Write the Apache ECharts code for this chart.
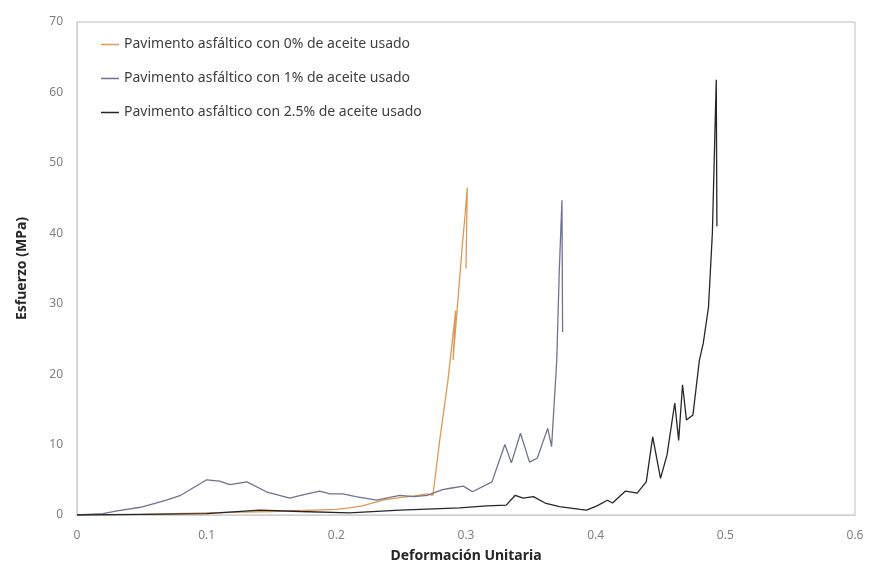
<!DOCTYPE html>
<html>
<head>
<meta charset="utf-8">
<script src="https://cdn.jsdelivr.net/npm/echarts@6/dist/echarts.min.js"></script>
<style>
  html, body { margin: 0; padding: 0; background: #fff; }
  #chart { width: 875px; height: 569px; }
</style>
</head>
<body>
<div id="chart"></div>
<script>
// values
const seriesNames = [
    'Pavimento asfáltico con 0% de aceite usado',
    'Pavimento asfáltico con 1% de aceite usado',
    'Pavimento asfáltico con 2.5% de aceite usado'
];

const strain0 = [0, 0.05, 0.1, 0.15, 0.2, 0.21, 0.22, 0.236, 0.25, 0.26, 0.27, 0.2745, 0.28, 0.286, 0.289, 0.292, 0.29, 0.294, 0.297, 0.299, 0.301, 0.3];
const stress0 = [0, 0.1, 0.3, 0.5, 0.8, 1.0, 1.3, 2.1, 2.5, 2.7, 3.0, 2.8, 11, 19, 24, 29, 22, 31, 38, 42, 46.5, 35];

const strain1 = [0, 0.02, 0.031, 0.049, 0.069, 0.08, 0.1, 0.11, 0.118, 0.131, 0.146, 0.164, 0.175, 0.187, 0.195, 0.205, 0.215, 0.231, 0.249, 0.26, 0.27, 0.282, 0.288, 0.298, 0.305, 0.32, 0.33, 0.335, 0.342, 0.349, 0.355, 0.363, 0.366, 0.37, 0.372, 0.374, 0.3745];
const stress1 = [0, 0.2, 0.6, 1.1, 2.1, 2.8, 5.0, 4.8, 4.3, 4.7, 3.3, 2.4, 2.9, 3.4, 3.0, 3.0, 2.6, 2.1, 2.8, 2.6, 2.8, 3.6, 3.8, 4.1, 3.3, 4.7, 10, 7.4, 11.6, 7.5, 8.1, 12.3, 9.7, 22, 35, 44.7, 26];

const strain2 = [0, 0.05, 0.1, 0.141, 0.172, 0.21, 0.249, 0.28, 0.295, 0.316, 0.331, 0.338, 0.344, 0.352, 0.361, 0.372, 0.388, 0.393, 0.401, 0.409, 0.413, 0.423, 0.432, 0.439, 0.444, 0.45, 0.455, 0.461, 0.464, 0.467, 0.47, 0.475, 0.48, 0.483, 0.487, 0.49, 0.493, 0.4935];
const stress2 = [0, 0.1, 0.2, 0.7, 0.5, 0.3, 0.7, 0.9, 1.0, 1.3, 1.4, 2.8, 2.4, 2.6, 1.7, 1.2, 0.8, 0.7, 1.3, 2.1, 1.7, 3.4, 3.1, 4.7, 11.1, 5.2, 8.5, 15.9, 10.6, 18.5, 13.5, 14.2, 22, 24.4, 29.5, 40, 61.8, 41];

const colors = ['#dd9a55', '#6f7390', '#262626'];

function pairs(xs, ys) {
    return xs.map((x, i) => [x, ys[i]]);
}

const chart = echarts.init(document.getElementById('chart'));

const lines = [
    pairs(strain0, stress0),
    pairs(strain1, stress1),
    pairs(strain2, stress2)
].map((data, i) => ({
    name: seriesNames[i],
    type: 'line',
    data: data,
    showSymbol: false,
    symbol: 'none',
    lineStyle: { width: 1.3, color: colors[i] },
    itemStyle: { color: colors[i] },
    z: 3 + i
}));

chart.setOption({
    animation: false,
    textStyle: { fontFamily: 'Noto Sans' },
    grid: {
        left: 77, right: 20, top: 22, bottom: 54,
        show: true, borderColor: '#bdbdbd', borderWidth: 1
    },
    legend: {
        orient: 'vertical',
        left: 96, top: 31,
        icon: 'rect',
        itemWidth: 18, itemHeight: 1.5,
        itemGap: 17,
        textStyle: { fontSize: 14, color: '#404040', lineHeight: 17 },
        data: seriesNames
    },
    xAxis: {
        type: 'value',
        min: 0, max: 0.6, interval: 0.1,
        name: 'Deformación Unitaria',
        nameLocation: 'middle',
        nameGap: 34,
        nameTextStyle: { fontSize: 14, fontWeight: 'bold', color: '#262626' },
        axisLine: { show: true, lineStyle: { color: '#d0d0d0' } },
        axisTick: { show: false },
        splitLine: { show: false },
        axisLabel: { color: '#808080', fontSize: 12, margin: 15 }
    },
    yAxis: {
        type: 'value',
        min: 0, max: 70, interval: 10,
        name: 'Esfuerzo (MPa)',
        nameLocation: 'middle',
        nameGap: 48,
        nameTextStyle: { fontSize: 14, fontWeight: 'bold', color: '#262626' },
        axisLine: { show: true, lineStyle: { color: '#d0d0d0' } },
        axisTick: { show: false },
        splitLine: { show: false },
        axisLabel: { color: '#808080', fontSize: 12, margin: 14 }
    },
    series: lines
});
</script>
</body>
</html>
